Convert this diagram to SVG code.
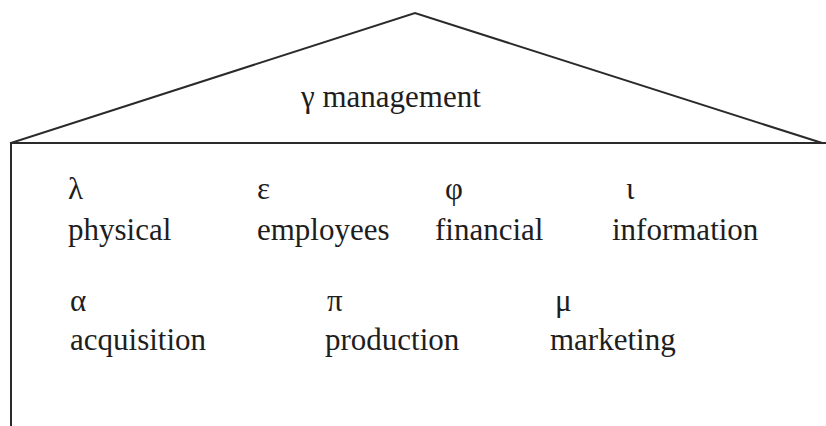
<svg xmlns="http://www.w3.org/2000/svg" width="826" height="426" viewBox="0 0 826 426">
  <style>
    .ln { fill: none; stroke: #2a2a2a; stroke-width: 2; stroke-linecap: square; }
    .t { font-family: "Liberation Serif", "Times New Roman", serif; font-size: 31px; fill: #1e1e1e; }
  </style>
  <rect width="826" height="426" fill="#ffffff"/>
  <g id="frame">
    <polyline class="ln" points="11,143 415,13 822,143"/>
    <line class="ln" x1="11" y1="143" x2="826" y2="143"/>
    <line class="ln" x1="11" y1="143" x2="11" y2="426"/>
  </g>
  <g id="management">
    <text class="t" x="301" y="107">γ management</text>
  </g>
  <g id="physical">
    <text class="t" x="68" y="199">λ</text>
    <text class="t" x="68" y="240">physical</text>
  </g>
  <g id="employees">
    <text class="t" x="257" y="199">ε</text>
    <text class="t" x="257" y="240">employees</text>
  </g>
  <g id="financial">
    <text class="t" x="445" y="199">φ</text>
    <text class="t" x="435" y="240">financial</text>
  </g>
  <g id="information">
    <text class="t" x="626" y="199">ι</text>
    <text class="t" x="612" y="240">information</text>
  </g>
  <g id="acquisition">
    <text class="t" x="70" y="311">α</text>
    <text class="t" x="70" y="350">acquisition</text>
  </g>
  <g id="production">
    <text class="t" x="327" y="311">π</text>
    <text class="t" x="325" y="350">production</text>
  </g>
  <g id="marketing">
    <text class="t" x="555" y="311">μ</text>
    <text class="t" x="550" y="350">marketing</text>
  </g>
</svg>
